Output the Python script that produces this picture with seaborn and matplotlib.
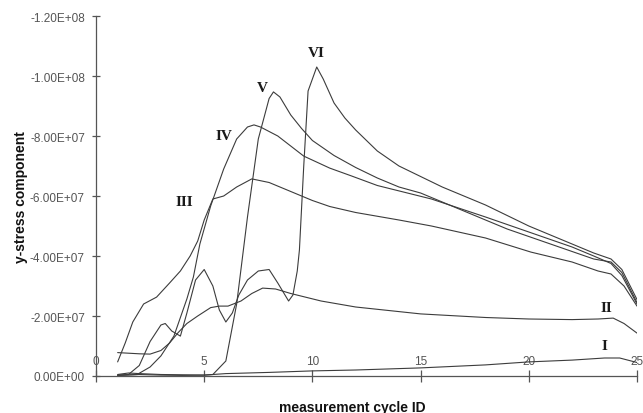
import matplotlib
matplotlib.use('Agg')
import matplotlib.pyplot as plt
import matplotlib.ticker as mticker
import seaborn as sns

# values in units of 1E+07 (magnitude, plotted as negative stress)
x_1 = [1, 1.5, 2, 3, 4, 5, 6, 8, 10, 12, 15, 18, 20, 22, 23.5, 24.2, 25]
v_1 = [0.05, 0.1, 0.08, 0.05, 0.04, 0.03, 0.08, 0.12, 0.17, 0.2, 0.27, 0.37, 0.47, 0.53, 0.6, 0.6, 0.45]

x_2 = [1, 1.5, 2, 2.5, 3, 3.4, 3.8, 4.2, 4.7, 5.3, 5.7, 6.1, 6.7, 7.2, 7.7, 8.3, 9, 10.4, 12, 15, 18, 20, 22, 23.2, 23.9, 24.4, 25]
v_2 = [0.78, 0.76, 0.74, 0.73, 0.85, 1.1, 1.45, 1.75, 2.0, 2.28, 2.33, 2.33, 2.5, 2.75, 2.93, 2.9, 2.75, 2.5, 2.3, 2.07, 1.95, 1.9, 1.88, 1.9, 1.93, 1.75, 1.43]

x_3 = [1, 1.35, 1.7, 2.2, 2.8, 3.4, 3.9, 4.35, 4.7, 5.0, 5.4, 5.9, 6.5, 7.2, 8, 9, 10, 10.8, 12, 14, 15.5, 18, 20.1, 22, 23.2, 23.8, 24.4, 25]
v_3 = [0.47, 1.1, 1.8, 2.4, 2.63, 3.1, 3.5, 4.0, 4.5, 5.2, 5.9, 6.0, 6.3, 6.57, 6.45, 6.15, 5.85, 5.65, 5.45, 5.2, 5.0, 4.6, 4.13, 3.8, 3.5, 3.4, 3.0, 2.33]

x_4 = [1, 1.9, 2.5, 3, 3.6, 4.2, 4.5, 4.8, 5.3, 5.9, 6.5, 7.0, 7.3, 7.6, 8.4, 9.6, 10.8, 11.8, 13, 15.5, 18, 20, 22, 23, 23.8, 24.3, 25]
v_4 = [0.02, 0.05, 0.3, 0.67, 1.33, 2.57, 3.3, 4.4, 5.67, 6.9, 7.9, 8.3, 8.37, 8.3, 8.0, 7.33, 6.93, 6.67, 6.35, 5.9, 5.3, 4.8, 4.3, 4.0, 3.75, 3.35, 2.4]

x_5 = [1, 2, 3, 4, 5, 5.4, 6, 6.5, 7, 7.5, 8, 8.2, 8.5, 9, 9.5, 10, 11, 12, 13, 14, 15, 16, 17, 18, 19, 20, 21, 22, 23, 23.8, 24.3, 25]
v_5 = [0.02, 0.05, 0.03, 0.02, 0.03, 0.05, 0.5, 2.4, 5.3, 7.9, 9.25, 9.47, 9.3, 8.7, 8.25, 7.85, 7.35, 6.95, 6.6, 6.3, 6.1, 5.8, 5.5, 5.2, 4.9, 4.65, 4.4, 4.15, 3.9, 3.8, 3.45, 2.45]

x_6 = [1, 1.5, 2, 2.5, 3, 3.2, 3.5, 3.9, 4.2, 4.6, 5.0, 5.4, 5.7, 6.0, 6.3, 6.6, 7.0, 7.5, 8.0, 8.4, 8.9, 9.1, 9.3, 9.4, 9.6, 9.8, 10.2, 10.5, 11, 11.5, 12, 13, 14, 15, 16, 17, 18, 19, 20, 21, 22, 23, 23.8, 24.3, 25]
v_6 = [0.03, 0.05, 0.35, 1.15, 1.7, 1.75, 1.5, 1.33, 2.1, 3.2, 3.55, 3.0, 2.2, 1.8, 2.1, 2.7, 3.2, 3.5, 3.55, 3.1, 2.5, 2.7, 3.5, 4.2, 7.0, 9.5, 10.3, 9.9, 9.1, 8.6, 8.2, 7.5, 7.0, 6.65, 6.3, 6.0, 5.7, 5.35, 5.0, 4.7, 4.4, 4.1, 3.9, 3.55, 2.55]

curve_x = [x_1, x_2, x_3, x_4, x_5, x_6]
curve_v = [v_1, v_2, v_3, v_4, v_5, v_6]

# curve labels and where they sit
names = ['I', 'II', 'III', 'IV', 'V', 'VI']
name_x = [23.5, 23.6, 4.1, 5.9, 7.7, 10.2]
name_v = [1.0, 2.27, 5.83, 8.0, 9.63, 10.77]

y_ticks = [0, -2e7, -4e7, -6e7, -8e7, -1e8, -1.2e8]
x_ticks = [0, 5, 10, 15, 20, 25]

sns.set_style("white")
plt.rcParams['font.family'] = ['Liberation Sans', 'DejaVu Sans']

fig = plt.figure(figsize=(6.43, 4.14), dpi=100)
ax = fig.add_axes([96 / 643, 1 - 377 / 414, 541 / 643, 360 / 414])

line_col = '#3c3c3c'
for xs, vs in zip(curve_x, curve_v):
    sns.lineplot(x=xs, y=[-v * 1e7 for v in vs], ax=ax, color=line_col, lw=0.8, sort=False)

for n, nx, nv in zip(names, name_x, name_v):
    ax.text(nx, -nv * 1e7, n, family=['Liberation Serif'], fontweight='bold',
            fontsize=11, color='#1a1a1a', ha='center', va='center')

ax.set_xlim(0, 25)
ax.set_ylim(0, -1.2e8)
ax.set_xticks(x_ticks)
ax.set_yticks(y_ticks)
ax.yaxis.set_major_formatter(mticker.FuncFormatter(lambda v, p: f"{v:.2E}"))

for s in ['top', 'right']:
    ax.spines[s].set_visible(False)
for s in ['left', 'bottom']:
    ax.spines[s].set_color('#555555')
    ax.spines[s].set_linewidth(0.9)

ax.tick_params(axis='y', direction='inout', length=6, width=0.9, color='#555555',
               labelsize=8.5, labelcolor='#555555', pad=5, left=True)
ax.tick_params(axis='x', direction='inout', length=8, width=0.9, color='#555555',
               labelsize=8.5, labelcolor='#555555', pad=-19, bottom=True)

ax.set_xlabel('measurement cycle ID', fontsize=10, fontweight='bold', color='#111111')
ax.set_ylabel('y-stress component', fontsize=10, fontweight='bold', color='#111111')
ax.xaxis.set_label_coords((352 - 96) / 541, -0.066)
ax.yaxis.set_label_coords(-0.125, 0.5)

plt.savefig('out.png', dpi=100)
